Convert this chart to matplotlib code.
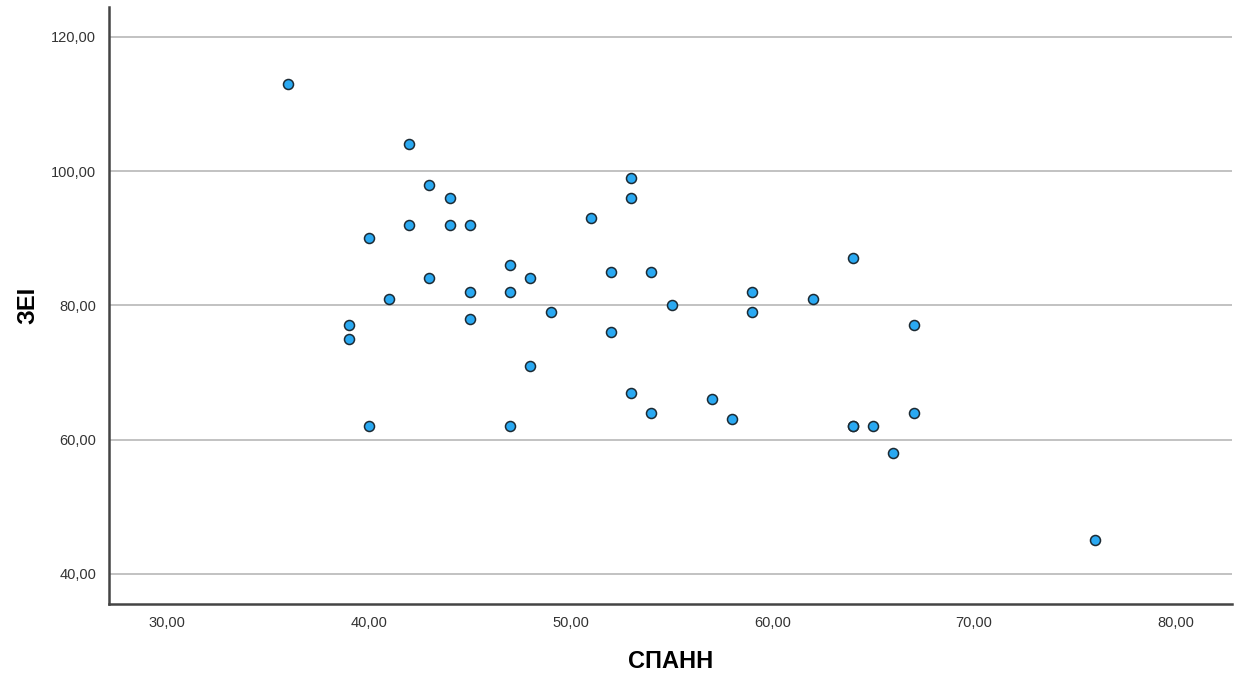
import matplotlib.pyplot as plt
from matplotlib.ticker import FuncFormatter

plt.rcParams['font.family'] = ['Liberation Sans', 'DejaVu Sans']

spann = [36, 39, 39, 40, 40, 41, 42, 42, 43, 43, 44, 44, 45, 45, 45,
         47, 47, 47, 48, 48, 49, 51, 52, 52, 53, 53, 53, 54, 54, 55,
         57, 58, 59, 59, 62, 64, 64, 64, 65, 66, 67, 67, 76]
zei = [113, 77, 75, 90, 62, 81, 104, 92, 98, 84, 96, 92, 92, 82, 78,
       86, 82, 62, 84, 71, 79, 93, 85, 76, 99, 96, 67, 85, 64, 80,
       66, 63, 82, 79, 81, 87, 62, 62, 62, 58, 77, 64, 45]
x_ticks = [30, 40, 50, 60, 70, 80]
y_ticks = [40, 60, 80, 100, 120]

fig = plt.figure(figsize=(12.36, 6.74), dpi=100)
ax = fig.add_axes([0.088, 0.104, 0.909, 0.886])

ax.scatter(spann, zei, s=52, color='#2aa9f2', edgecolors='#1c2a33',
           linewidths=1.1, zorder=3)

ax.set_xlim(27.1, 82.8)
ax.set_ylim(35.5, 124.5)
ax.set_xticks(x_ticks)
ax.set_yticks(y_ticks)
comma = FuncFormatter(lambda v, p: f'{v:.2f}'.replace('.', ','))
ax.xaxis.set_major_formatter(comma)
ax.yaxis.set_major_formatter(comma)
ax.tick_params(length=0, labelsize=10.5, colors='#333333', pad=9)
ax.yaxis.grid(True, color='#bdbdbd', linewidth=1.3)
ax.set_axisbelow(True)

for side in ['top', 'right']:
    ax.spines[side].set_visible(False)
for side in ['left', 'bottom']:
    ax.spines[side].set_color('#444444')
    ax.spines[side].set_linewidth(1.8)

ax.set_xlabel('СПАНН', fontsize=17, fontweight='bold')
ax.set_ylabel('ЗЕI', fontsize=17, fontweight='bold')
ax.xaxis.set_label_coords(0.5, -0.078)
ax.yaxis.set_label_coords(-0.062, 0.5)

fig.savefig('out.png', dpi=100)
